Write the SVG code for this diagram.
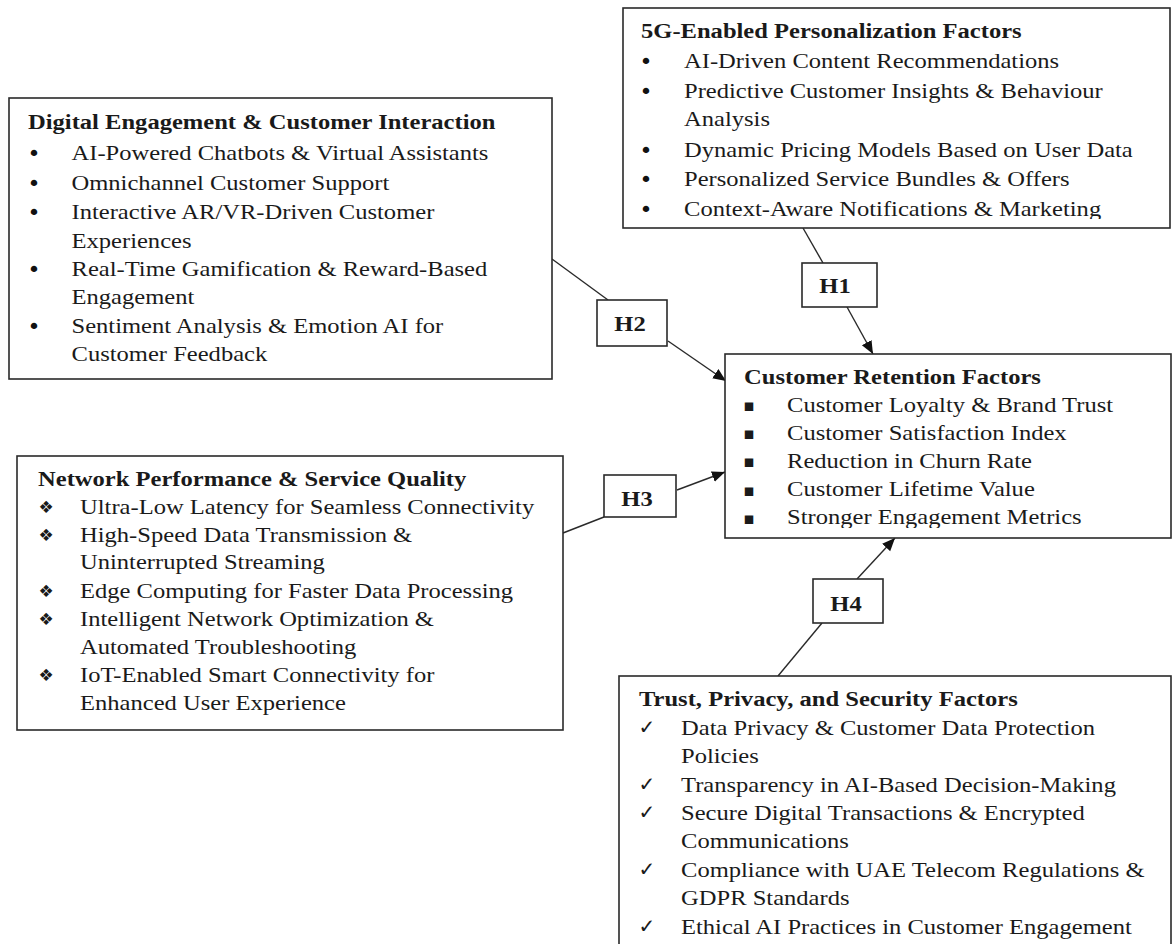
<svg xmlns="http://www.w3.org/2000/svg" width="1172" height="944" viewBox="0 0 1172 944">
<style>
.box{fill:#fff;stroke:#2a2a2a;stroke-width:1.6}
.t{font-family:"Liberation Serif","Times New Roman",serif;font-size:21px;fill:#1a1a1a}
.b{font-weight:bold}
.sym{font-family:"DejaVu Sans",sans-serif;fill:#1a1a1a}
.blt{font-family:"DejaVu Sans",sans-serif;font-size:22px;fill:#111}
.con{stroke:#2a2a2a;stroke-width:1.4;fill:none}
</style>
<defs>
<marker id="ah" markerUnits="userSpaceOnUse" markerWidth="14" markerHeight="12" refX="13" refY="5.5" orient="auto">
<path d="M0,0 L13,5.5 L0,11 z" fill="#111"/>
</marker>
<clipPath id="clip5g"><rect x="623" y="8" width="547" height="211"/></clipPath>
<clipPath id="clipRet"><rect x="725" y="354" width="446" height="174"/></clipPath>
</defs>

<g id="connectors">
<line class="con" x1="803" y1="228" x2="823" y2="263"/>
<line class="con" x1="847" y1="307" x2="873" y2="354" marker-end="url(#ah)"/>
<line class="con" x1="552" y1="259" x2="608" y2="300"/>
<line class="con" x1="668" y1="341" x2="726" y2="381" marker-end="url(#ah)"/>
<line class="con" x1="563" y1="533" x2="604" y2="517"/>
<line class="con" x1="677" y1="490" x2="725" y2="472" marker-end="url(#ah)"/>
<line class="con" x1="778" y1="676" x2="822" y2="623"/>
<line class="con" x1="857" y1="579" x2="895" y2="538" marker-end="url(#ah)"/>
</g>

<g id="personalization">
<rect class="box" x="623" y="8" width="547" height="220"/>
<g transform="translate(641,0) scale(1.17,1)"><text class="t b" x="0" y="38">5G-Enabled Personalization Factors</text></g>
<g class="blt" text-anchor="middle">
<text x="646" y="69">•</text><text x="646" y="99">•</text><text x="646" y="158">•</text><text x="646" y="187">•</text><text x="646" y="217">•</text>
</g>
<g clip-path="url(#clip5g)">
<g transform="translate(684,0) scale(1.17,1)">
<text class="t" x="0" y="68">AI-Driven Content Recommendations</text>
<text class="t" x="0" y="98">Predictive Customer Insights &amp; Behaviour</text>
<text class="t" x="0" y="126">Analysis</text>
<text class="t" x="0" y="157">Dynamic Pricing Models Based on User Data</text>
<text class="t" x="0" y="186">Personalized Service Bundles &amp; Offers</text>
<text class="t" x="0" y="216">Context-Aware Notifications &amp; Marketing</text>
</g>
</g>
</g>

<g id="digital">
<rect class="box" x="9" y="98" width="543" height="281"/>
<g transform="translate(28,0) scale(1.17,1)"><text class="t b" x="0" y="129">Digital Engagement &amp; Customer Interaction</text></g>
<g class="blt" text-anchor="middle">
<text x="34" y="161">•</text><text x="34" y="191">•</text><text x="34" y="220">•</text><text x="34" y="277">•</text><text x="34" y="334">•</text>
</g>
<g transform="translate(71.5,0) scale(1.17,1)">
<text class="t" x="0" y="160">AI-Powered Chatbots &amp; Virtual Assistants</text>
<text class="t" x="0" y="190">Omnichannel Customer Support</text>
<text class="t" x="0" y="219">Interactive AR/VR-Driven Customer</text>
<text class="t" x="0" y="248">Experiences</text>
<text class="t" x="0" y="276">Real-Time Gamification &amp; Reward-Based</text>
<text class="t" x="0" y="304">Engagement</text>
<text class="t" x="0" y="333">Sentiment Analysis &amp; Emotion AI for</text>
<text class="t" x="0" y="361">Customer Feedback</text>
</g>
</g>

<g id="network">
<rect class="box" x="17" y="456" width="546" height="274"/>
<g transform="translate(38,0) scale(1.17,1)"><text class="t b" x="0" y="486">Network Performance &amp; Service Quality</text></g>
<g class="sym" font-size="17" text-anchor="middle">
<text x="46" y="513">❖</text><text x="46" y="541">❖</text><text x="46" y="597">❖</text><text x="46" y="625">❖</text><text x="46" y="681">❖</text>
</g>
<g transform="translate(80,0) scale(1.17,1)">
<text class="t" x="0" y="514">Ultra-Low Latency for Seamless Connectivity</text>
<text class="t" x="0" y="542">High-Speed Data Transmission &amp;</text>
<text class="t" x="0" y="569">Uninterrupted Streaming</text>
<text class="t" x="0" y="598">Edge Computing for Faster Data Processing</text>
<text class="t" x="0" y="626">Intelligent Network Optimization &amp;</text>
<text class="t" x="0" y="654">Automated Troubleshooting</text>
<text class="t" x="0" y="682">IoT-Enabled Smart Connectivity for</text>
<text class="t" x="0" y="710">Enhanced User Experience</text>
</g>
</g>

<g id="retention">
<rect class="box" x="725" y="354" width="446" height="184"/>
<g transform="translate(744,0) scale(1.17,1)"><text class="t b" x="0" y="384">Customer Retention Factors</text></g>
<g class="sym" font-size="17" text-anchor="middle">
<text x="749" y="411">▪</text><text x="749" y="439">▪</text><text x="749" y="467">▪</text><text x="749" y="496">▪</text><text x="749" y="524">▪</text>
</g>
<g clip-path="url(#clipRet)">
<g transform="translate(787,0) scale(1.17,1)">
<text class="t" x="0" y="412">Customer Loyalty &amp; Brand Trust</text>
<text class="t" x="0" y="440">Customer Satisfaction Index</text>
<text class="t" x="0" y="468">Reduction in Churn Rate</text>
<text class="t" x="0" y="496">Customer Lifetime Value</text>
<text class="t" x="0" y="524">Stronger Engagement Metrics</text>
</g>
</g>
</g>

<g id="trust">
<rect class="box" x="619" y="676" width="552" height="280"/>
<g transform="translate(639,0) scale(1.17,1)"><text class="t b" x="0" y="706">Trust, Privacy, and Security Factors</text></g>
<g class="sym" font-size="20" text-anchor="middle">
<text x="647" y="734">✓</text><text x="647" y="791">✓</text><text x="647" y="819">✓</text><text x="647" y="876">✓</text><text x="647" y="933">✓</text>
</g>
<g transform="translate(681,0) scale(1.17,1)">
<text class="t" x="0" y="735">Data Privacy &amp; Customer Data Protection</text>
<text class="t" x="0" y="763">Policies</text>
<text class="t" x="0" y="792">Transparency in AI-Based Decision-Making</text>
<text class="t" x="0" y="820">Secure Digital Transactions &amp; Encrypted</text>
<text class="t" x="0" y="848">Communications</text>
<text class="t" x="0" y="877">Compliance with UAE Telecom Regulations &amp;</text>
<text class="t" x="0" y="905">GDPR Standards</text>
<text class="t" x="0" y="934">Ethical AI Practices in Customer Engagement</text>
</g>
</g>

<g id="h1">
<rect class="box" x="802" y="263" width="75" height="44"/>
<g transform="translate(835,0) scale(1.17,1)"><text class="t b" x="0" y="293" text-anchor="middle">H1</text></g>
</g>
<g id="h2">
<rect class="box" x="597" y="300" width="70" height="46"/>
<g transform="translate(630,0) scale(1.17,1)"><text class="t b" x="0" y="331" text-anchor="middle">H2</text></g>
</g>
<g id="h3">
<rect class="box" x="604" y="475" width="72" height="42"/>
<g transform="translate(637,0) scale(1.17,1)"><text class="t b" x="0" y="506" text-anchor="middle">H3</text></g>
</g>
<g id="h4">
<rect class="box" x="813" y="579" width="70" height="44"/>
<g transform="translate(846,0) scale(1.17,1)"><text class="t b" x="0" y="611" text-anchor="middle">H4</text></g>
</g>
</svg>
